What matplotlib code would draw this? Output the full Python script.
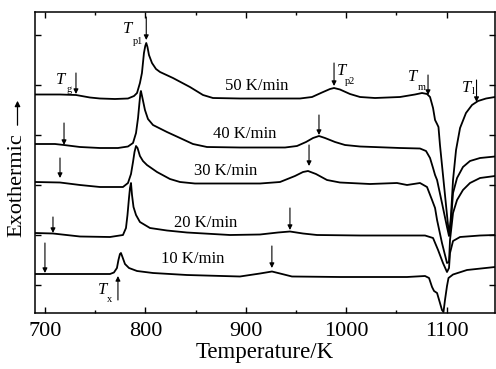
import matplotlib
matplotlib.use('Agg')
import matplotlib.pyplot as plt
from matplotlib.ticker import MultipleLocator

plt.rcParams['font.family'] = ['Liberation Serif', 'DejaVu Serif']

# DSC traces (temperature in K, heat flow in arbitrary units, offset per rate)
t50 = [690.1, 715.0, 730.9, 744.8, 754.8, 769.7, 782.7, 788.7, 791.7, 794.6, 796.6, 798.6,
       799.9, 800.9, 802.1, 803.6, 806.6, 810.6, 814.6, 827.5, 844.4, 857.4, 867.3, 894.2,
       954.0, 966.0, 975.9, 983.9, 987.9, 993.8, 1003.8, 1013.8, 1028.7, 1053.6, 1068.5,
       1075.5, 1080.5, 1083.5, 1086.5, 1088.5, 1090.5, 1091.9, 1093.4, 1096.4, 1099.4,
       1101.4, 1102.9, 1104.4, 1106.4, 1109.4, 1113.4, 1119.3, 1125.3, 1131.3, 1139.3, 1148.2]
q50 = [190.5, 190.5, 190, 187.5, 186.5, 186, 186.5, 189, 192, 202, 212, 232,
       239, 242, 238, 230, 222, 216, 213, 207, 198, 190, 187, 186.5,
       186.5, 188, 192.5, 196, 197, 195.5, 191, 188, 187, 188, 190.5,
       192, 191, 188, 177, 165, 161, 158, 140, 110, 80,
       60, 52, 70, 105, 135, 157, 172, 180, 184, 186.5, 188]

t40 = [690.1, 710.0, 718.9, 734.9, 754.8, 772.7, 782.7, 787.7, 790.7, 792.7, 794.1, 795.1,
       795.6, 797.1, 799.6, 802.6, 807.6, 821.5, 834.5, 847.4, 861.4, 894.2, 939.1, 951.0,
       960.0, 967.0, 972.9, 978.9, 988.9, 998.8, 1013.8, 1053.6, 1073.5, 1079.5, 1083.5,
       1086.5, 1088.5, 1090.5, 1095.4, 1100.4, 1102.4, 1104.4, 1106.4, 1110.4, 1116.3,
       1123.3, 1133.3, 1148.2]
q40 = [141, 141, 140, 138, 137, 137, 138.5, 142, 152, 167, 182, 192,
       194, 187, 175, 166, 160, 153, 147, 141, 138, 137.5, 137.5, 139,
       143, 147, 149, 147, 143, 140, 138.5, 137, 136.5, 134, 127,
       117, 110, 105, 82, 58, 49, 65, 92, 107, 118,
       124, 127, 128.5]

t30 = [690.1, 715.0, 734.9, 754.8, 777.7, 782.7, 785.7, 787.7, 789.2, 790.7, 792.2, 794.6,
       797.6, 801.6, 811.6, 824.5, 834.5, 849.4, 914.2, 934.1, 949.0, 957.0, 962.0, 969.9,
       980.9, 993.8, 1023.7, 1050.6, 1060.6, 1073.5, 1080.5, 1085.5, 1088.5, 1090.5,
       1095.4, 1100.4, 1102.4, 1103.4, 1106.4, 1110.4, 1116.3, 1123.3, 1133.3, 1148.2]
q30 = [103, 102.5, 100, 98, 98, 102, 111, 123, 133, 139, 137, 129,
       124, 120, 113, 106, 103, 101.5, 101.5, 103, 109, 113, 114, 111,
       105, 102.5, 101, 102, 100, 102, 98, 85, 77, 65,
       42, 22, 23, 45, 72, 85, 95, 102, 107, 109]

t20 = [690.1, 708.0, 734.9, 764.8, 777.7, 780.7, 782.2, 783.7, 784.7, 785.7, 786.7, 788.2,
       790.7, 794.6, 804.6, 821.5, 841.4, 884.3, 914.2, 932.1, 944.0, 957.0, 970.9, 1013.8,
       1078.5, 1086.5, 1091.5, 1096.4, 1100.4, 1102.4, 1103.4, 1106.4, 1113.4, 1133.3, 1148.2]
q20 = [52, 51.5, 48.5, 48, 50, 57, 70, 87, 97, 102, 90, 78,
       70, 63, 57, 54.5, 52.5, 50, 50.5, 52.5, 53.5, 51.5, 50, 49.5,
       49.5, 47, 35, 22, 13, 17, 32, 44, 48, 49.5, 50]

t10 = [690.1, 734.9, 764.8, 768.7, 771.7, 773.2, 774.7, 775.7, 777.2, 779.7, 783.7, 791.7,
       807.6, 841.4, 894.2, 914.2, 926.1, 936.1, 946.0, 993.8, 1060.6, 1078.5, 1082.5,
       1085.5, 1087.5, 1090.5, 1093.4, 1095.4, 1096.9, 1098.4, 1100.4, 1101.9, 1106.4,
       1120.3, 1148.2]
q10 = [11, 11, 11, 12.5, 17, 25, 31, 32, 28, 21, 17, 14,
       12, 10, 8.5, 11.5, 13.5, 11, 8.5, 8, 8, 9, 7,
       -2, -6, -8, -18, -25, -27, -15, -1, 7, 10.5,
       15, 18]

rate_labels = ['50 K/min', '40 K/min', '30 K/min', '20 K/min', '10 K/min']
rate_label_x = [911.2, 899.2, 880.3, 860.4, 847.4]
rate_label_y = [195, 147, 110, 58, 22]

# marker arrows: (temperature, tail, tip)
arrow_t = [730.9, 800.9, 987.9, 1081.5, 1129.8, 719.0, 972.9, 715.0, 963.0, 708.0, 944.0, 700.0, 926.0]
arrow_tail = [212, 268, 222, 210, 205, 162, 170, 127, 140, 68, 77, 42, 39]
arrow_tip = [191, 245, 199, 190, 183, 140, 150, 107, 119, 52, 55, 12, 17]
tx_t, tx_tail, tx_tip = 772.7, -15, 9

# characteristic temperature labels: T position and subscript position
sub_text = ['g', 'p1', 'p2', 'm', 'l', 'x']
T_pos = [(716, 205), (782.7, 256), (995.8, 214), (1066.5, 208), (1120.3, 197.5), (757.8, -5)]
sub_pos = [(724.5, 195), (792.7, 244), (1003.8, 203), (1075.5, 197.5), (1126.8, 194), (764.8, -15)]

fig = plt.figure(figsize=(4.96, 3.69), dpi=100)
ax = fig.add_axes([35 / 496, 55.7 / 369, 460 / 496, 301.6 / 369])

for t, q in [(t50, q50), (t40, q40), (t30, q30), (t20, q20), (t10, q10)]:
    ax.plot(t, q, color='black', lw=1.3, solid_joinstyle='round')

for lab, x, y in zip(rate_labels, rate_label_x, rate_label_y):
    ax.text(x, y, lab, ha='center', va='baseline', fontsize=12)

ap = dict(arrowstyle='-|>', lw=0.8, color='black', mutation_scale=7, shrinkA=0, shrinkB=0)
for x, a, b in zip(arrow_t, arrow_tail, arrow_tip):
    ax.annotate('', xy=(x, b), xytext=(x, a), arrowprops=ap)
ax.annotate('', xy=(tx_t, tx_tip), xytext=(tx_t, tx_tail), arrowprops=ap)

for s, (tx, ty), (sx, sy) in zip(sub_text, T_pos, sub_pos):
    ax.text(tx, ty, 'T', style='italic', fontsize=12, ha='center', va='center')
    ax.text(sx, sy, s, fontsize=7.5, ha='center', va='center')

ax.set_xlim(690.1, 1148.2)
ax.set_ylim(-28.3, 273.3)
ax.xaxis.set_major_locator(MultipleLocator(100))
ax.xaxis.set_minor_locator(MultipleLocator(50))
ax.yaxis.set_major_locator(MultipleLocator(50))
ax.tick_params(which='both', direction='in', top=True, right=True, labelleft=False, width=1)
ax.tick_params(which='major', length=4, labelsize=16, pad=6)
ax.tick_params(which='minor', length=2.5)
for sp in ax.spines.values():
    sp.set_linewidth(1.1)

ax.set_xlabel('Temperature/K', fontsize=16.5, labelpad=1)
fig.text(17 / 496, 1 - 185.5 / 369, 'Exothermic', rotation=90, ha='center', va='center', fontsize=16)
fig.patches.append(matplotlib.patches.FancyArrowPatch(
    (17.5 / 496, 1 - 128 / 369), (17.5 / 496, 1 - 98 / 369), transform=fig.transFigure,
    arrowstyle='-|>', mutation_scale=8, lw=0.9, color='black'))

fig.savefig('out.png', dpi=100)
